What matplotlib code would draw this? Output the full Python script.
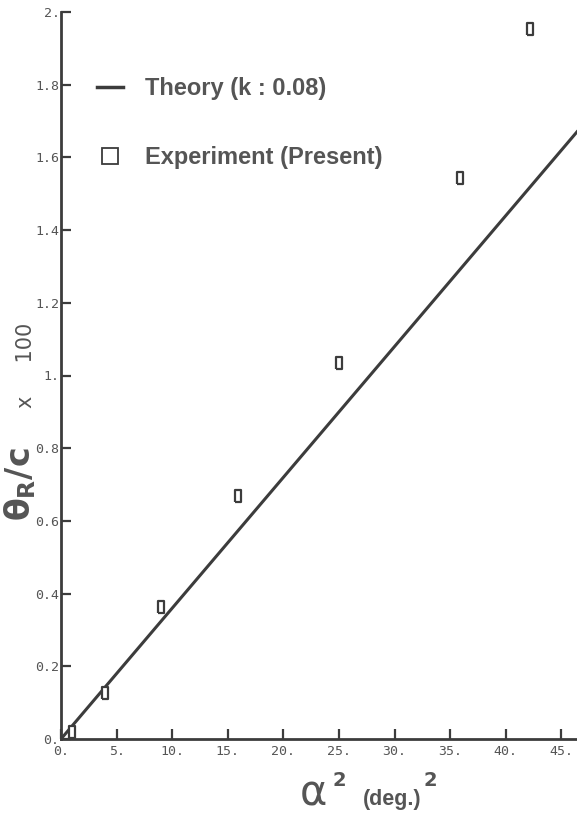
import matplotlib
matplotlib.use('Agg')
from matplotlib import pyplot as plt
from matplotlib.lines import Line2D
import numpy as np

# experiment points (alpha^2, theta_R/c x 100)
exp_x = [1.0, 3.95, 8.96, 15.93, 25.0, 35.9, 42.2]
exp_y = [0.02, 0.127, 0.362, 0.668, 1.035, 1.543, 1.953]

# theory line, k : 0.08
theory_x = [0.0, 46.5]
theory_y = [0.0, 1.674]

x_ticks = [0, 5, 10, 15, 20, 25, 30, 35, 40, 45]
x_labels = ['0.', '5.', '10.', '15.', '20.', '25.', '30.', '35.', '40.', '45.']
y_ticks = [0, 0.2, 0.4, 0.6, 0.8, 1.0, 1.2, 1.4, 1.6, 1.8, 2.0]
y_labels = ['0.', '0.2', '0.4', '0.6', '0.8', '1.', '1.2', '1.4', '1.6', '1.8', '2.']

ink = '#3c3c3c'
txt = '#555555'

plt.rcParams['mathtext.fontset'] = 'custom'
plt.rcParams['mathtext.rm'] = 'DejaVu Sans:bold'
plt.rcParams['mathtext.it'] = 'DejaVu Sans:bold'
plt.rcParams['mathtext.bf'] = 'DejaVu Sans:bold'

W, H = 577, 816
fig = plt.figure(figsize=(W / 100, H / 100), dpi=100)
ax = fig.add_axes([61 / W, 77 / H, 1 - 61 / W, (739 - 12) / H])

ax.plot(theory_x, theory_y, color=ink, lw=2.2, solid_capstyle='butt')

# tall narrow open rectangle, as in the scan
rect = [(-0.6, -1), (0.6, -1), (0.6, 1), (-0.6, 1), (-0.6, -1)]
ax.plot(exp_x, exp_y, ls='none', marker=rect, ms=8, mfc='white', mec=ink, mew=1.6, zorder=3)

ax.set_xlim(0, 46.4)
ax.set_ylim(0, 2.0)
ax.set_xticks(x_ticks)
ax.set_xticklabels(x_labels)
ax.set_yticks(y_ticks)
ax.set_yticklabels(y_labels)
ax.tick_params(direction='in', length=7, width=1.6, color=ink, labelcolor=txt, labelsize=9.5)
ax.tick_params(axis='y', pad=1)
ax.tick_params(axis='x', pad=4)
for lab in ax.get_xticklabels() + ax.get_yticklabels():
	lab.set_family('DejaVu Sans Mono')
ax.spines['top'].set_visible(False)
ax.spines['right'].set_visible(False)
for s in ['left', 'bottom']:
	ax.spines[s].set_color(ink)
	ax.spines[s].set_linewidth(2.0)
ax.patch.set_alpha(0)

handles = [Line2D([], [], color=ink, lw=2.5),
	Line2D([], [], ls='none', marker='s', ms=12, mfc='white', mec=ink, mew=1.3)]
leg = ax.legend(handles, ['Theory (k : 0.08)', 'Experiment (Present)'], loc='upper left',
	bbox_to_anchor=(0.028, 0.94), frameon=False, handlelength=1.1, handletextpad=0.95,
	labelspacing=1.95, prop={'family': 'Liberation Sans', 'size': 17, 'weight': 'bold'})
for t in leg.get_texts():
	t.set_color(txt)

# y label, rotated pieces
fig.text(20 / W, 1 - 484 / H, r'$\theta_R/c$', rotation=90, fontsize=24, color=txt,
	ha='center', va='center')
fig.text(26 / W, 1 - 365 / H, 'x     100', rotation=90, fontsize=15, color=txt,
	ha='center', va='center')

# x label pieces
fig.text(313 / W, 1 - 793 / H, 'α', fontsize=30, color=txt,
	ha='center', va='center')
fig.text(339 / W, 1 - 780 / H, '2', fontsize=14, fontweight='bold', color=txt,
	ha='center', va='center')
fig.text(392 / W, 1 - 799 / H, '(deg.)', fontsize=15.5, fontweight='bold', color=txt,
	ha='center', va='center', family='Liberation Sans')
fig.text(430 / W, 1 - 781 / H, '2', fontsize=14, fontweight='bold', color=txt,
	ha='center', va='center')

fig.savefig('out.png', dpi=100)
